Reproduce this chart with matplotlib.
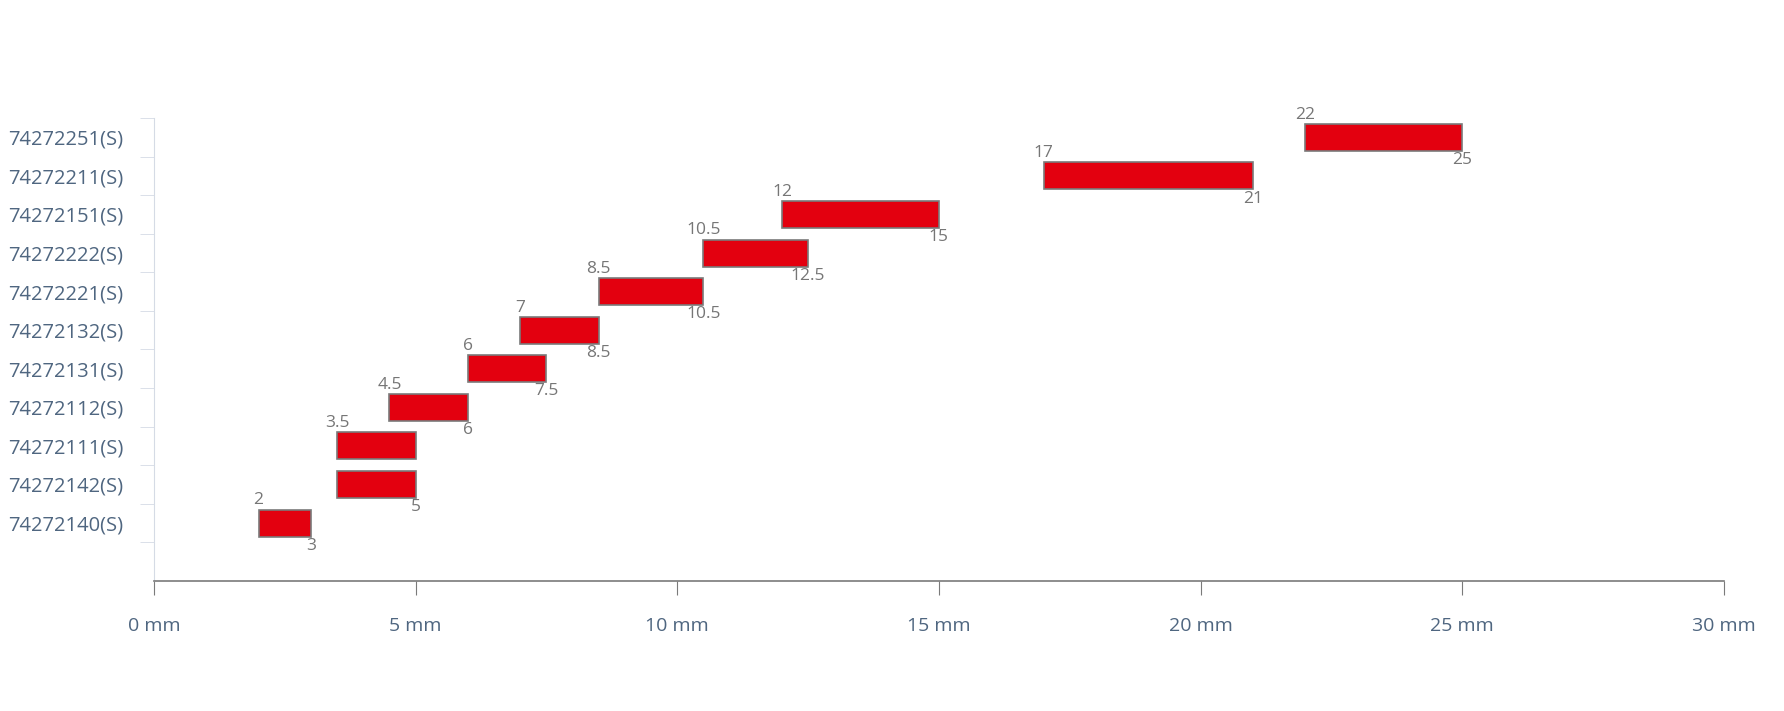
import matplotlib
matplotlib.use("Agg")
import matplotlib.pyplot as plt
from matplotlib.ticker import FixedLocator

plt.rcParams["font.family"] = ["Open Sans", "DejaVu Sans"]

parts = ["74272140(S)", "74272142(S)", "74272111(S)", "74272112(S)", "74272131(S)",
         "74272132(S)", "74272221(S)", "74272222(S)", "74272151(S)", "74272211(S)",
         "74272251(S)"]
start_mm = [2, 3.5, 3.5, 4.5, 6, 7, 8.5, 10.5, 12, 17, 22]
end_mm = [3, 5, 5, 6, 7.5, 8.5, 10.5, 12.5, 15, 21, 25]
# labels hidden in the original where they would collide with a neighbouring bar
show_start = [True, False, True, True, True, True, True, True, True, True, True]
show_end = [True, True, False, True, True, True, True, True, True, True, True]
x_ticks = [0, 5, 10, 15, 20, 25, 30]

fig = plt.figure(figsize=(17.84, 7.11), dpi=100)
ax = fig.add_axes([0.0863, 0.183, 0.880, 0.651])

ys = list(range(len(parts)))
widths = [e - s for s, e in zip(start_mm, end_mm)]
ax.barh(ys, widths, left=start_mm, height=0.7, color="#E3000F",
        edgecolor="#7a7a7a", linewidth=1.2, zorder=3)

for y, s, e, ss, se in zip(ys, start_mm, end_mm, show_start, show_end):
    if ss:
        ax.text(s, y + 0.38, f"{s:g}", ha="center", va="bottom",
                fontsize=12.5, color="#767676")
    if se:
        ax.text(e, y - 0.38, f"{e:g}", ha="center", va="top",
                fontsize=12.5, color="#767676")

ax.set_xlim(0, 30)
ax.set_ylim(-1.5, 10.5)
ax.set_xticks(x_ticks)
ax.set_xticklabels([f"{t} mm" for t in x_ticks])
ax.set_yticks(ys)
ax.set_yticklabels(parts)
ax.yaxis.set_minor_locator(FixedLocator([y - 0.5 for y in range(len(parts) + 1)]))
ax.tick_params(axis="y", which="major", length=0, pad=22, labelsize=14.5,
               labelcolor="#4f6680")
ax.tick_params(axis="y", which="minor", length=10, color="#d5dbe5")
ax.tick_params(axis="x", length=10, color="#7a7a7a", pad=16, labelsize=14,
               labelcolor="#4f6680")

for side in ["top", "right"]:
    ax.spines[side].set_visible(False)
ax.spines["left"].set_color("#d5dbe5")
ax.spines["bottom"].set_color("#7a7a7a")
ax.spines["bottom"].set_linewidth(1.2)

fig.savefig("out.png", dpi=100)
